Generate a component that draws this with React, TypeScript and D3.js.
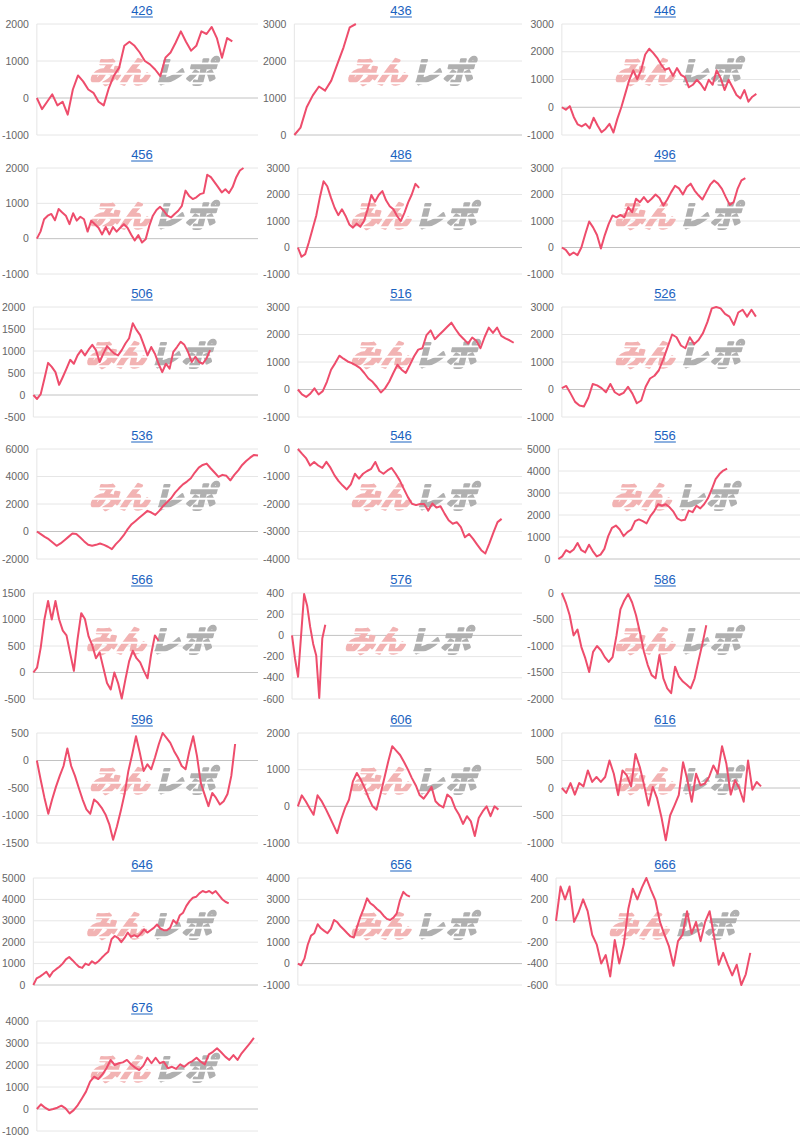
import React from 'react'
import * as d3 from 'd3'

// chart titles (machine numbers), in page order
const chartIds = ['426', '436', '446', '456', '486', '496', '506', '516', '526', '536', '546', '556', '566', '576', '586', '596', '606', '616', '646', '656', '666', '676']

// cumulative balance series
const s426 = [0, -300, -100, 100, -200, -100, -450, 230, 610, 450, 230, 140, -100, -200, 270, 610, 820, 1410, 1520, 1410, 1230, 1000, 910, 770, 590, 1090, 1230, 1500, 1800, 1520, 1280, 1410, 1800, 1730, 1920, 1620, 1090, 1620, 1530]
const s436 = [0, 200, 750, 1070, 1310, 1200, 1470, 1920, 2370, 2910, 3000]
const s446 = [0, -90, 40, -350, -620, -690, -600, -760, -380, -660, -900, -780, -600, -910, -410, 10, 500, 990, 1330, 1010, 1350, 1900, 2110, 1960, 1780, 1540, 1350, 1410, 1130, 1410, 1170, 1090, 720, 810, 990, 840, 620, 990, 810, 1330, 1050, 620, 990, 720, 440, 320, 620, 200, 380, 480]
const s456 = [0, 200, 550, 650, 700, 520, 840, 740, 650, 410, 720, 510, 620, 550, 200, 510, 410, 310, 120, 330, 120, 330, 200, 310, 410, 310, 120, -50, 100, -110, -20, 360, 650, 810, 900, 790, 650, 600, 700, 790, 930, 1360, 1210, 1120, 1170, 1260, 1290, 1810, 1740, 1600, 1460, 1310, 1400, 1290, 1460, 1740, 1930, 2000]
const s486 = [0, -350, -250, 200, 700, 1200, 1900, 2500, 2310, 1880, 1500, 1220, 1440, 1190, 870, 750, 900, 780, 1000, 1440, 1980, 1730, 1980, 2130, 1780, 1560, 1440, 1190, 1000, 1310, 1690, 2000, 2400, 2250]
const s496 = [0, -90, -290, -190, -290, 0, 510, 980, 760, 470, -40, 470, 890, 1210, 1140, 1230, 1140, 1520, 1330, 1840, 1710, 1900, 1710, 1840, 2000, 1870, 1580, 1810, 2090, 2330, 2230, 2000, 2280, 2410, 2150, 1970, 1810, 2090, 2370, 2530, 2410, 2210, 1900, 1610, 1710, 2210, 2530, 2620]
const s506 = [0, -90, 20, 370, 730, 640, 520, 230, 410, 600, 800, 710, 900, 1020, 900, 1030, 1140, 1020, 750, 940, 1110, 1020, 940, 900, 1020, 1170, 1290, 1630, 1480, 1360, 1140, 900, 1090, 940, 710, 520, 710, 600, 980, 1090, 1210, 1140, 980, 750, 870, 750, 710, 830, 1020]
const s516 = [0, -180, -270, -150, 40, -180, -60, 280, 720, 960, 1230, 1120, 1020, 960, 880, 780, 600, 400, 280, 100, -110, 40, 280, 600, 900, 720, 600, 900, 1210, 1450, 1500, 1980, 2150, 1830, 1980, 2130, 2280, 2430, 2190, 1980, 1830, 1670, 1890, 1770, 1500, 1910, 2250, 2060, 2250, 1950, 1860, 1790, 1700]
const s526 = [50, 130, -150, -450, -580, -620, -300, 200, 150, 50, -100, 200, -100, -200, -120, 100, -150, -500, -400, 100, 400, 500, 700, 1100, 1550, 2000, 1900, 1600, 1500, 1900, 1650, 1800, 2050, 2450, 2950, 3000, 2950, 2750, 2650, 2350, 2800, 2900, 2650, 2900, 2650]
const s536 = [0, -190, -390, -560, -800, -1040, -870, -630, -390, -150, -190, -440, -720, -970, -1040, -970, -870, -970, -1110, -1280, -920, -630, -270, 170, 530, 770, 1020, 1260, 1500, 1380, 1210, 1500, 1860, 2150, 2420, 2830, 3140, 3430, 3630, 3870, 4290, 4650, 4840, 4940, 4600, 4290, 3970, 4120, 4050, 3720, 4120, 4450, 4840, 5130, 5370, 5570, 5530]
const s546 = [0, -170, -330, -600, -470, -600, -690, -470, -680, -960, -1170, -1330, -1470, -1290, -900, -1080, -900, -800, -720, -470, -800, -900, -780, -690, -900, -1140, -1450, -1750, -1990, -2040, -2000, -2000, -2240, -1980, -2130, -2080, -2350, -2590, -2720, -2660, -2840, -3210, -3090, -3270, -3480, -3680, -3800, -3430, -3030, -2660, -2540]
const s556 = [0, 120, 400, 300, 430, 730, 400, 300, 650, 350, 120, 200, 460, 1040, 1420, 1520, 1340, 1040, 1220, 1340, 1720, 1800, 1720, 1620, 1950, 2180, 2490, 2420, 2490, 2350, 2150, 1850, 1750, 1780, 2200, 2130, 2420, 2300, 2490, 2760, 3170, 3630, 3860, 4020, 4110]
const s566 = [0, 90, 470, 1000, 1350, 1000, 1350, 1000, 790, 700, 360, 30, 630, 1120, 1010, 680, 510, 270, 380, 90, -200, -320, 0, -200, -490, -130, 210, 410, 270, 190, 30, -110, 350, 700, 600]
const s576 = [0, -220, -390, 0, 390, 280, 80, -80, -190, -590, -30, 100]
const s586 = [0, -180, -420, -800, -690, -1020, -1230, -1490, -1110, -1000, -1080, -1210, -1300, -1210, -800, -310, -140, -20, -180, -420, -740, -1100, -1360, -1550, -1610, -1170, -1610, -1800, -1890, -1390, -1580, -1670, -1730, -1800, -1610, -1280, -960, -610]
const s596 = [0, -350, -680, -970, -710, -480, -280, -100, 220, -100, -280, -500, -710, -890, -970, -710, -770, -860, -980, -1160, -1440, -1200, -920, -610, -190, 110, 440, 140, -190, -70, -160, 60, 300, 500, 410, 320, 170, 50, -100, -160, 170, 440, 80, -410, -620, -830, -590, -680, -800, -740, -610, -280, 300]
const s606 = [0, 300, 140, -50, -230, 300, 150, -50, -270, -500, -730, -360, -50, 180, 680, 910, 730, 500, 230, 0, -90, 320, 770, 1230, 1640, 1520, 1400, 1210, 1000, 770, 570, 300, 210, 360, 530, 140, 30, -30, 320, 230, -50, -230, -480, -270, -410, -810, -320, -140, 0, -270, 0, -90]
const s616 = [0, -90, 90, -120, 90, 30, 320, 110, 200, 110, 200, 500, 260, -130, 320, 230, 30, 620, 380, 50, -320, 20, -190, -530, -950, -500, -320, -130, 470, 140, -250, 260, 50, 80, 200, 410, 260, 760, 440, -120, 140, -10, -250, 500, -30, 110, 30]
const s646 = [0, 310, 390, 500, 620, 390, 620, 740, 850, 1000, 1200, 1310, 1160, 1000, 850, 800, 1000, 930, 1110, 1000, 1110, 1270, 1420, 1550, 2140, 2290, 2200, 2000, 2200, 2450, 2250, 2330, 2250, 2400, 2600, 2450, 2560, 2670, 2830, 2640, 2560, 2560, 2670, 3030, 2870, 3260, 3380, 3700, 3920, 4080, 4120, 4280, 4390, 4330, 4390, 4280, 4390, 4200, 4010, 3890, 3810]
const s656 = [0, -80, 230, 880, 1310, 1420, 1840, 1650, 1530, 1420, 1620, 2040, 1930, 1730, 1580, 1420, 1270, 1220, 1730, 2200, 2580, 3050, 2820, 2710, 2550, 2430, 2240, 2090, 2040, 2150, 2350, 2970, 3350, 3200, 3130]
const s666 = [0, 320, 200, 320, -10, 80, 200, 90, -130, -220, -400, -320, -520, -180, -400, -220, 110, 300, 200, 310, 400, 290, 190, -10, -130, -240, -420, -190, -130, 90, -120, -10, -190, -10, 90, -150, -410, -300, -410, -510, -410, -600, -500, -300]
const s676 = [0, 210, 60, -50, 0, 60, 150, 30, -200, -50, 180, 480, 790, 1240, 1470, 1360, 1570, 1850, 2230, 2000, 2080, 2120, 2230, 2030, 1880, 1770, 1970, 2330, 2080, 2330, 2080, 2150, 1850, 1920, 1820, 2030, 1920, 2080, 2180, 2330, 2150, 2030, 2480, 2600, 2760, 2580, 2380, 2230, 2450, 2230, 2530, 2760, 2980, 3230]

const seriesList = [s426, s436, s446, s456, s486, s496, s506, s516, s526, s536, s546, s556, s566, s576, s586, s596, s606, s616, s646, s656, s666, s676]

// how many x slots each chart's axis holds (the line stops short of the right edge)
const slotCounts = [44, 38, 61, 62, 62, 62, 62, 55, 55, 57, 56, 64, 62, 77, 62, 59, 58, 56, 70, 69, 55, 55]

// y axis tick values
const tickSets = [
  [-1000, 0, 1000, 2000],
  [0, 1000, 2000, 3000],
  [-1000, 0, 1000, 2000, 3000],
  [-1000, 0, 1000, 2000],
  [-1000, 0, 1000, 2000, 3000],
  [-1000, 0, 1000, 2000, 3000],
  [-500, 0, 500, 1000, 1500, 2000],
  [-1000, 0, 1000, 2000, 3000],
  [-1000, 0, 1000, 2000, 3000],
  [-2000, 0, 2000, 4000, 6000],
  [-4000, -3000, -2000, -1000, 0],
  [0, 1000, 2000, 3000, 4000, 5000],
  [-500, 0, 500, 1000, 1500],
  [-600, -400, -200, 0, 200, 400],
  [-2000, -1500, -1000, -500, 0],
  [-1500, -1000, -500, 0, 500],
  [-1000, 0, 1000, 2000],
  [-1000, -500, 0, 500, 1000],
  [0, 1000, 2000, 3000, 4000, 5000],
  [-1000, 0, 1000, 2000, 3000, 4000],
  [-600, -400, -200, 0, 200, 400],
  [-1000, 0, 1000, 2000, 3000, 4000],
]

// grid layout
const rowTop = [24, 168, 307, 449, 593, 733, 878, 1021]
const rowBottom = [135, 274, 417, 559, 699, 843, 985, 1131]
const colLabelLeft = [2, 263, 527]
const colRight = [258, 522, 800]
const colTitleX = [142, 401, 665]

const LINE_COLOR = '#ee4d6c'
const GRID_COLOR = '#e6e6e6'
const ZERO_COLOR = '#c2c2c2'
const TICK_FONT = "10.5px 'Liberation Sans'"
const TITLE_FONT = "13px 'Liberation Sans'"

const ctx = document.createElement('canvas').getContext('2d')
const textWidth = (s, font) => {
  ctx.font = font
  return ctx.measureText(s).width
}

const Watermark = ({ x, y }) => (
  <g transform={`translate(${x},${y}) skewX(-14)`} mask="url(#wm-stripes)"
    fontFamily="'Noto Sans CJK JP', sans-serif" fontWeight="bold" fontSize={30}>
    <text x={-3} y={11} textAnchor="end" fill="#f2b3b3" stroke="#f2b3b3" strokeWidth={2.4}
      strokeLinejoin="round">みん</text>
    <text x={1} y={11} textAnchor="start" fill="#b0b0b0" stroke="#b0b0b0" strokeWidth={2.4}
      strokeLinejoin="round" letterSpacing={2}>レポ</text>
  </g>
)

const MiniChart = ({ id, values, slots, ticks, index }) => {
  const row = Math.floor(index / 3)
  const col = index % 3
  const top = rowTop[row]
  const bottom = rowBottom[row]

  const maxLabel = d3.max(ticks, t => textWidth(String(t), TICK_FONT))
  const left = colLabelLeft[col] + maxLabel + 8
  const right = colRight[col]

  const x = d3.scaleLinear().domain([0, slots - 1]).range([left, right])
  const y = d3.scaleLinear().domain(d3.extent(ticks)).range([bottom, top])
  const path = d3.line().x((d, i) => x(i)).y(d => y(d))(values)

  const titleX = colTitleX[col]
  const titleW = textWidth(id, TITLE_FONT)

  return (
    <g>
      <text x={titleX} y={top - 9} textAnchor="middle" fontSize={13} fill="#1a62c0"
        fontFamily="'Liberation Sans', Arial, sans-serif">{id}</text>
      <line x1={titleX - titleW / 2} x2={titleX + titleW / 2} y1={top - 7} y2={top - 7} stroke="#1a62c0" strokeWidth={1} />

      {ticks.map(t => (
        <line key={'g' + t} x1={left} x2={right} y1={y(t)} y2={y(t)}
          stroke={t === 0 ? ZERO_COLOR : GRID_COLOR} strokeWidth={1} />
      ))}
      <line x1={left} x2={left} y1={top} y2={bottom} stroke={GRID_COLOR} strokeWidth={1} />

      {ticks.map(t => (
        <text key={'t' + t} x={left - 8} y={y(t)} dy="0.35em" textAnchor="end" fontSize={10.5}
          fill="#666" fontFamily="'Liberation Sans', Arial, sans-serif">{t}</text>
      ))}

      {/* watermark sits roughly in the middle of the plot */}
      <Watermark x={left + 118} y={top + 48} />

      <path d={path} fill="none" stroke={LINE_COLOR} strokeWidth={2} strokeLinejoin="round" />
    </g>
  )
}

const App = () => {
  return (
    <svg width={800} height={1139} style={{ position: 'absolute', left: 0, top: 0, background: '#fff' }}>
      <defs>
        <mask id="wm-stripes" maskContentUnits="objectBoundingBox">
          <rect x={0} y={0} width={1} height={1} fill="white" />
          <rect x={0} y={0.32} width={1} height={0.045} fill="black" />
          <rect x={0} y={0.56} width={1} height={0.045} fill="black" />
          <rect x={0} y={0.78} width={1} height={0.045} fill="black" />
        </mask>
      </defs>
      {chartIds.map((id, i) => (
        <MiniChart key={id} id={id} values={seriesList[i]} slots={slotCounts[i]} ticks={tickSets[i]} index={i} />
      ))}
    </svg>
  )
}

export default App
